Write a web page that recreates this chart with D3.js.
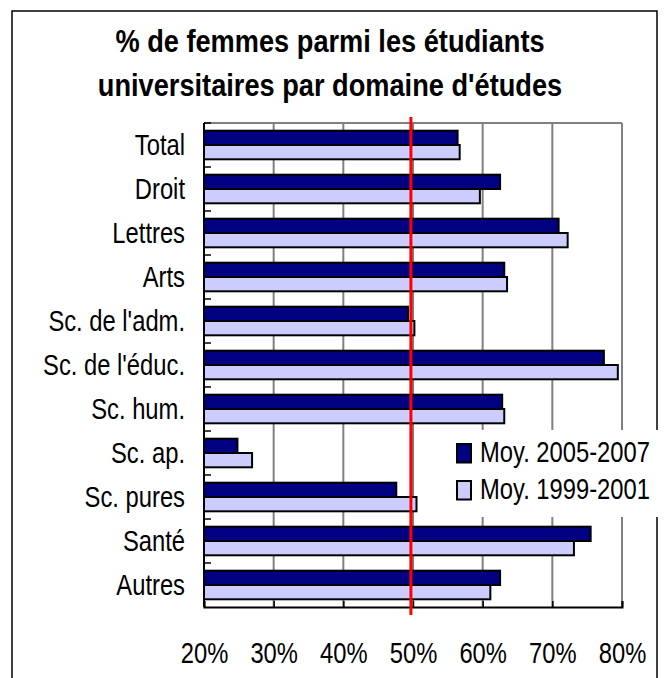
<!DOCTYPE html>
<html>
<head>
<meta charset="utf-8">
<script src="https://cdn.jsdelivr.net/npm/d3@7"></script>
<style>
  body { margin: 0; background: #fff; }
  text { font-family: "Liberation Sans", Arial, sans-serif; fill: #000; }
</style>
</head>
<body>
<svg class="chart" width="664" height="678"></svg>
<script>
var categories = ["Total", "Droit", "Lettres", "Arts", "Sc. de l'adm.", "Sc. de l'éduc.",
                  "Sc. hum.", "Sc. ap.", "Sc. pures", "Santé", "Autres"];
var moy2005 = [56.4, 62.5, 70.9, 63.1, 49.3, 77.4, 62.8, 24.8, 47.6, 75.5, 62.5];
var moy1999 = [56.7, 59.6, 72.2, 63.5, 50.2, 79.4, 63.1, 26.9, 50.5, 73.1, 61.1];
var seriesNames = ["Moy. 2005-2007", "Moy. 1999-2001"];
var seriesColors = ["#000080", "#ccccff"];
var xTicks = [20, 30, 40, 50, 60, 70, 80];
var refLine = 49.7;
var titleLines = ["% de femmes parmi les étudiants", "universitaires par domaine d'études"];

(function() {
  var svg = d3.select(".chart");
  var plot = {left: 204, right: 622, top: 123, bottom: 607};
  var sx = 0.82; // the source text is horizontally narrow

  var series = [moy2005, moy1999];
  var data = categories.map(function(c, i) {
    return {name: c, values: series.map(function(s) { return s[i]; })};
  });

  var xScale = d3.scaleLinear()
    .domain([20, 80])
    .range([plot.left, plot.right]);

  var yScale = d3.scaleBand()
    .domain(categories)
    .range([plot.top, plot.bottom])
    .paddingInner(0.35)
    .paddingOuter(0.175);

  var ySub = d3.scaleBand()
    .domain([0, 1])
    .range([0, yScale.bandwidth()]);

  // outer frame
  svg.append("path")
    .attr("d", "M12,690V11H657V690")
    .attr("fill", "none")
    .attr("stroke", "#000")
    .attr("stroke-width", 1.5);

  // title
  svg.selectAll("text.title")
    .data(titleLines)
    .enter().append("text")
    .attr("class", "title")
    .attr("text-anchor", "middle")
    .attr("transform", function(d, i) { return "translate(330," + (52 + i * 44) + ") scale(0.85,1)"; })
    .style("font-size", "32px")
    .style("font-weight", "bold")
    .text(function(d) { return d; });

  // grid lines
  svg.append("g")
    .selectAll("line")
    .data(xTicks.slice(1))
    .enter().append("line")
    .attr("x1", function(d) { return xScale(d); })
    .attr("x2", function(d) { return xScale(d); })
    .attr("y1", plot.top)
    .attr("y2", plot.bottom)
    .attr("stroke", "#808080")
    .attr("stroke-width", 2);

  svg.append("line")
    .attr("x1", plot.left).attr("x2", plot.right)
    .attr("y1", plot.top).attr("y2", plot.top)
    .attr("stroke", "#808080")
    .attr("stroke-width", 2);

  // bars
  var bar = svg.append("g")
    .selectAll("g")
    .data(data)
    .enter().append("g")
    .attr("transform", function(d) { return "translate(0," + yScale(d.name) + ")"; });

  bar.selectAll("rect")
    .data(function(d) { return d.values; })
    .enter().append("rect")
    .attr("x", xScale(20))
    .attr("y", function(d, i) { return ySub(i); })
    .attr("width", function(d) { return xScale(d) - xScale(20); })
    .attr("height", ySub.bandwidth())
    .attr("fill", function(d, i) { return seriesColors[i]; })
    .attr("stroke", "#000")
    .attr("stroke-width", 2);

  // x axis (ticks inside)
  var xAxis = d3.axisBottom(xScale)
    .tickValues(xTicks)
    .tickSize(-6)
    .tickFormat(function(d) { return d + "%"; });

  var gx = svg.append("g")
    .attr("transform", "translate(0," + plot.bottom + ")")
    .call(xAxis);
  gx.select(".domain").attr("stroke", "#000").attr("stroke-width", 2);
  gx.selectAll(".tick line").attr("stroke", "#000").attr("stroke-width", 1.5);
  gx.selectAll(".tick text")
    .attr("y", 56)
    .attr("dy", 0)
    .attr("transform", "scale(" + sx + ",1)")
    .style("font-size", "29px")
    .style("font-family", "Liberation Sans, Arial, sans-serif");

  // y axis: line, ticks between categories, labels
  var gy = svg.append("g");
  gy.append("line")
    .attr("x1", plot.left).attr("x2", plot.left)
    .attr("y1", plot.top).attr("y2", plot.bottom)
    .attr("stroke", "#000")
    .attr("stroke-width", 2);

  gy.selectAll("line.tick")
    .data(categories)
    .enter().append("line")
    .attr("class", "tick")
    .attr("x1", plot.left).attr("x2", plot.left + 7)
    .attr("y1", function(d) { return yScale(d) - yScale.step() * 0.175; })
    .attr("y2", function(d) { return yScale(d) - yScale.step() * 0.175; })
    .attr("stroke", "#000")
    .attr("stroke-width", 1.5);

  gy.selectAll("text")
    .data(categories)
    .enter().append("text")
    .attr("text-anchor", "end")
    .attr("dy", "0.36em")
    .attr("transform", function(d) {
      return "translate(185," + (yScale(d) + yScale.bandwidth() / 2) + ") scale(" + sx + ",1)";
    })
    .style("font-size", "29px")
    .text(function(d) { return d; });

  // reference line
  svg.append("line")
    .attr("x1", xScale(refLine)).attr("x2", xScale(refLine))
    .attr("y1", 117).attr("y2", 615)
    .attr("stroke", "#ff0000")
    .attr("stroke-width", 3);

  // legend
  var legend = svg.append("g");
  legend.append("rect")
    .attr("x", 450).attr("y", 430)
    .attr("width", 212).attr("height", 87)
    .attr("fill", "#fff");

  var item = legend.selectAll("g")
    .data(seriesNames)
    .enter().append("g")
    .attr("transform", function(d, i) { return "translate(457," + (444 + i * 37) + ")"; });

  item.append("rect")
    .attr("width", 14)
    .attr("height", 18.5)
    .attr("fill", function(d, i) { return seriesColors[i]; })
    .attr("stroke", "#000")
    .attr("stroke-width", 2);

  item.append("text")
    .attr("transform", "translate(23,18) scale(" + sx + ",1)")
    .style("font-size", "29px")
    .text(function(d) { return d; });
})();
</script>
</body>
</html>
